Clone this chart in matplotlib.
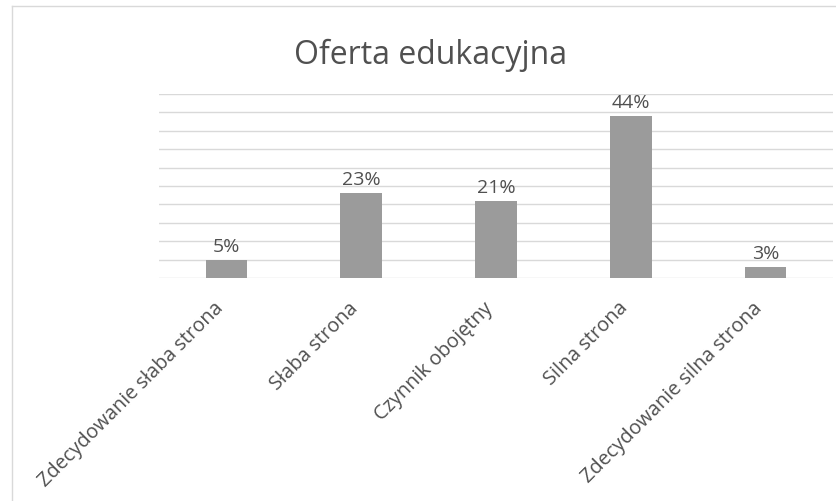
import matplotlib.pyplot as plt
from matplotlib.lines import Line2D
from matplotlib.transforms import ScaledTranslation

plt.rcParams['font.family'] = ['Open Sans', 'DejaVu Sans']

categories = ["Zdecydowanie słaba strona", "Słaba strona", "Czynnik obojętny",
              "Silna strona", "Zdecydowanie silna strona"]
values = [5, 23, 21, 44, 3]
title = "Oferta edukacyjna"


def main():
    fig = plt.figure(figsize=(8.37, 5.02), dpi=100)
    ax = fig.add_axes([0.19, 0.444, 0.805, 0.367])

    x = range(len(categories))
    ax.bar(x, values, width=0.31, color="#9b9b9b", zorder=2)
    for xi, v in zip(x, values):
        ax.text(xi, v + 1.4, f"{v}%", ha="center", va="bottom",
                fontsize=14, color="#505050")

    ax.set_ylim(0, 50)
    ax.set_xlim(-0.5, len(categories) - 0.5)
    ax.set_yticks(range(0, 51, 5))
    ax.yaxis.grid(True, color="#d9d9d9", linewidth=1)
    ax.set_axisbelow(True)
    ax.tick_params(axis="y", left=False, labelleft=False)
    ax.tick_params(axis="x", length=0, pad=19)
    ax.set_xticks(list(x))
    ax.set_xticklabels(categories, rotation=45, ha="right", va="center",
                       rotation_mode="anchor", fontsize=14.3, color="#505050")
    # nudge the slanted labels a little to the left
    shift = ScaledTranslation(-6 / 100, 0, fig.dpi_scale_trans)
    for lab in ax.get_xticklabels():
        lab.set_transform(lab.get_transform() + shift)
    for s in ax.spines.values():
        s.set_visible(False)

    fig.text(0.515, 0.89, title, ha="center", va="center",
             fontsize=23, color="#505050")

    # light frame of the chart box
    fig.add_artist(Line2D([12 / 837, 12 / 837], [0, 1 - 7 / 502],
                          color="#d9d9d9", linewidth=1))
    fig.add_artist(Line2D([12 / 837, 1], [1 - 7 / 502, 1 - 7 / 502],
                          color="#d9d9d9", linewidth=1))

    fig.savefig("out.png", dpi=100)


if __name__ == '__main__':
    main()
